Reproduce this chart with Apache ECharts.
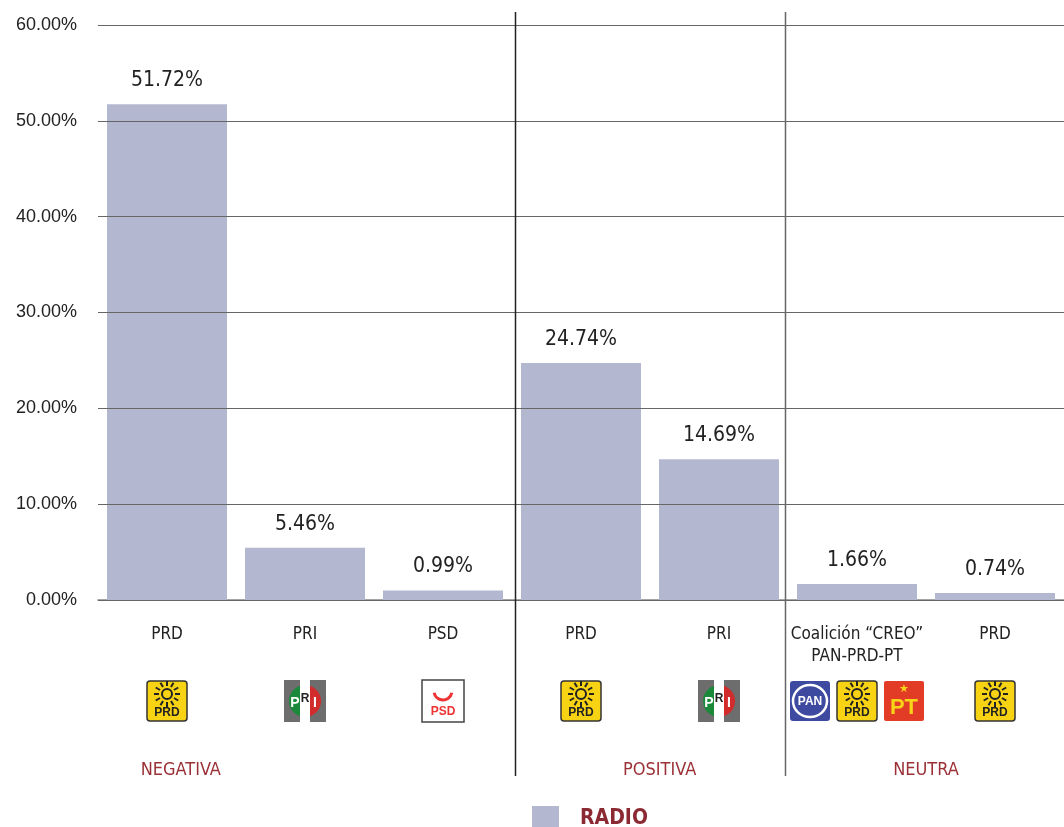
<!DOCTYPE html>
<html>
<head>
<meta charset="utf-8">
<script src="https://cdn.jsdelivr.net/npm/echarts@6/dist/echarts.min.js"></script>
<style>
  html, body { margin: 0; padding: 0; background: #fff; }
  #main { width: 1064px; height: 827px; }
</style>
</head>
<body>
<div id="main"></div>
<script>
var categories = ['PRD', 'PRI', 'PSD', 'PRD', 'PRI', 'Coalición “CREO”\nPAN-PRD-PT', 'PRD'];
var radio = [51.72, 5.46, 0.99, 24.74, 14.69, 1.66, 0.74];
var logos = [['PRD'], ['PRI'], ['PSD'], ['PRD'], ['PRI'], ['PAN', 'PRD', 'PT'], ['PRD']];
var groups = [
  { name: 'NEGATIVA', at: 0.1 },
  { name: 'POSITIVA', at: 3.57 },
  { name: 'NEUTRA', at: 5.5 }
];
var separators = [2.523, 4.48];

// pick a condensed face if one is installed
function hasFont(name) {
  var c = document.createElement('canvas').getContext('2d');
  var s = 'abcdefghijklmnopqrstuvwxyz0123456789%';
  c.font = '40px monospace';
  var w0 = c.measureText(s).width;
  c.font = "40px '" + name + "', monospace";
  return c.measureText(s).width !== w0;
}
var narrowName = ['Liberation Sans Narrow', 'DejaVu Sans Condensed', 'Roboto Condensed', 'Open Sans Condensed']
  .filter(hasFont)[0];
var narrow = narrowName ? "'" + narrowName + "', sans-serif" : "'Liberation Sans', sans-serif";

var myChart = echarts.init(document.getElementById('main'));

var option = {
  animation: false,
  grid: { left: 98, right: 0, top: 25, bottom: 227 },
  legend: {
    left: 527, top: 801,
    itemWidth: 27, itemHeight: 25,
    icon: 'rect',
    textStyle: { color: '#8b2a33', fontWeight: 'bold', fontSize: 21, fontFamily: narrow, padding: [0, 0, 0, 16] },
    data: ['RADIO']
  },
  xAxis: {
    type: 'category',
    data: categories,
    axisLine: { lineStyle: { color: '#888', width: 1.5 } },
    axisTick: { show: false },
    axisLabel: {
      margin: 24, color: '#222', fontSize: 17, fontFamily: narrow,
      lineHeight: 22, verticalAlign: 'top', interval: 0
    }
  },
  yAxis: {
    type: 'value',
    min: 0, max: 60, interval: 10,
    z: 3,
    axisLine: { show: false },
    axisTick: { show: false },
    axisLabel: {
      margin: 21, color: '#222', fontSize: 18, fontFamily: "'Liberation Sans', sans-serif",
      formatter: function (v) { return v.toFixed(2) + '%'; }
    },
    splitLine: { lineStyle: { color: '#666', width: 1 } }
  },
  series: [{
    name: 'RADIO',
    type: 'bar',
    data: radio,
    barWidth: 120,
    itemStyle: { color: '#b4b7d0' },
    label: {
      show: true, position: 'top', distance: 13,
      color: '#222', fontSize: 21, fontFamily: narrow,
      formatter: function (p) { return p.value.toFixed(2) + '%'; }
    }
  }]
};
myChart.setOption(option);

// ---- logos, separators, group labels ----
function cx(i) { return myChart.convertToPixel({ xAxisIndex: 0 }, i); }
var step = cx(1) - cx(0);
function at(f) { return cx(0) + f * step; }

function prdLogo(x, y) {
  var rays = [];
  for (var r = 0; r < 12; r++) {
    var a = r * Math.PI / 6;
    rays.push({ type: 'line', shape: { x1: Math.cos(a) * 8, y1: -7 + Math.sin(a) * 8, x2: Math.cos(a) * 13, y2: -7 + Math.sin(a) * 13 }, style: { stroke: '#222', lineWidth: 2 } });
  }
  return {
    type: 'group', x: x, y: y,
    children: [
      { type: 'rect', shape: { x: -20, y: -20, width: 40, height: 40, r: 3 }, style: { fill: '#f8d313', stroke: '#333', lineWidth: 1.5 } },
      { type: 'circle', shape: { cx: 0, cy: -7, r: 5 }, style: { fill: 'none', stroke: '#222', lineWidth: 2 } }
    ].concat(rays).concat([
      { type: 'text', style: { x: 0, y: 12, text: 'PRD', fill: '#222', font: "bold 12px 'Liberation Sans', sans-serif", align: 'center', verticalAlign: 'middle' } }
    ])
  };
}
function priLogo(x, y) {
  return {
    type: 'group', x: x, y: y,
    children: [
      { type: 'rect', shape: { x: -21, y: -21, width: 42, height: 42 }, style: { fill: '#6d6d6d' } },
      { type: 'rect', shape: { x: -5, y: -21, width: 10, height: 42 }, style: { fill: '#fff' } },
      { type: 'sector', shape: { cx: 0, cy: 0, r: 16, startAngle: Math.PI / 2, endAngle: Math.PI * 1.5 }, style: { fill: '#1a8a3a' } },
      { type: 'sector', shape: { cx: 0, cy: 0, r: 16, startAngle: -Math.PI / 2, endAngle: Math.PI / 2 }, style: { fill: '#d22b2b' } },
      { type: 'rect', shape: { x: -5, y: -16, width: 10, height: 32 }, style: { fill: '#fff' } },
      { type: 'text', style: { x: -10, y: 2, text: 'P', fill: '#fff', font: "bold 14px 'Liberation Sans', sans-serif", align: 'center', verticalAlign: 'middle' } },
      { type: 'text', style: { x: 0, y: -2, text: 'R', fill: '#222', font: "bold 12px 'Liberation Sans', sans-serif", align: 'center', verticalAlign: 'middle' } },
      { type: 'text', style: { x: 10, y: 2, text: 'I', fill: '#fff', font: "bold 14px 'Liberation Sans', sans-serif", align: 'center', verticalAlign: 'middle' } }
    ]
  };
}
function psdLogo(x, y) {
  return {
    type: 'group', x: x, y: y,
    children: [
      { type: 'rect', shape: { x: -21, y: -21, width: 42, height: 42 }, style: { fill: '#fff', stroke: '#444', lineWidth: 1.5 } },
      { type: 'arc', shape: { cx: 0, cy: -10, r: 9, startAngle: 0.2, endAngle: Math.PI - 0.2 }, style: { stroke: '#e33', lineWidth: 3, fill: 'none' } },
      { type: 'text', style: { x: 0, y: 11, text: 'PSD', fill: '#e33', font: "bold 12px 'Liberation Sans', sans-serif", align: 'center', verticalAlign: 'middle' } }
    ]
  };
}
function panLogo(x, y) {
  return {
    type: 'group', x: x, y: y,
    children: [
      { type: 'rect', shape: { x: -20, y: -20, width: 40, height: 40, r: 3 }, style: { fill: '#3d4aa0' } },
      { type: 'ellipse', shape: { cx: 0, cy: 0, rx: 17, ry: 16 }, style: { fill: 'none', stroke: '#fff', lineWidth: 2.5 } },
      { type: 'text', style: { x: 0, y: 1, text: 'PAN', fill: '#fff', font: "bold 12px 'Liberation Sans', sans-serif", align: 'center', verticalAlign: 'middle' } }
    ]
  };
}
function ptLogo(x, y) {
  return {
    type: 'group', x: x, y: y,
    children: [
      { type: 'rect', shape: { x: -20, y: -20, width: 40, height: 40, r: 2 }, style: { fill: '#e23b26' } },
      { type: 'text', style: { x: 0, y: -12, text: '★', fill: '#f7d418', font: "11px 'DejaVu Sans', sans-serif", align: 'center', verticalAlign: 'middle' } },
      { type: 'text', style: { x: 0, y: 7, text: 'PT', fill: '#f7d418', font: "bold 22px 'Liberation Sans', sans-serif", align: 'center', verticalAlign: 'middle' } }
    ]
  };
}
var makers = { PRD: prdLogo, PRI: priLogo, PSD: psdLogo, PAN: panLogo, PT: ptLogo };

var graphics = [];
logos.forEach(function (set, i) {
  var c = cx(i);
  var gap = 47;
  set.forEach(function (name, j) {
    var off = (j - (set.length - 1) / 2) * gap;
    graphics.push(makers[name](c + off, 701));
  });
});
separators.forEach(function (s, n) {
  var x = Math.round(at(s)) + 0.5;
  graphics.push({ type: 'line', shape: { x1: x, y1: 12, x2: x, y2: 776 }, style: { stroke: n === 0 ? '#222' : '#666', lineWidth: 1.5 }, z: 10 });
});
groups.forEach(function (g) {
  graphics.push({ type: 'text', style: { x: at(g.at), y: 770, text: g.name, fill: '#9b3037', font: "18px " + narrow, align: 'center', verticalAlign: 'middle' } });
});
myChart.setOption({ graphic: graphics });
</script>
</body>
</html>
